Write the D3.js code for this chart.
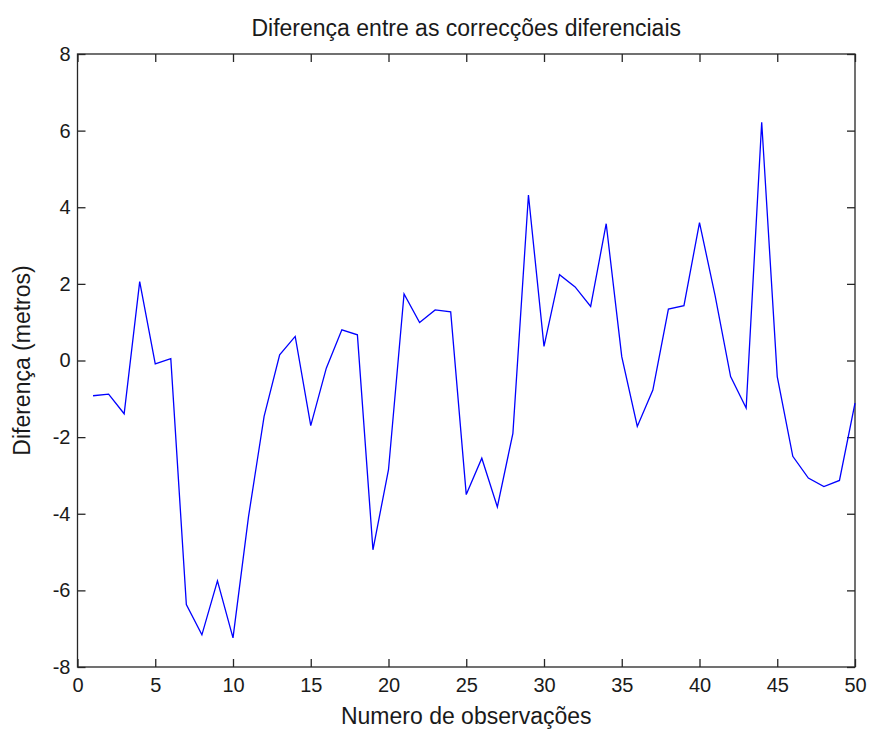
<!DOCTYPE html>
<html>
<head>
<meta charset="utf-8">
<script src="https://cdn.jsdelivr.net/npm/d3@7"></script>
<style>
  body { margin: 0; background: #fff; }
  text { font-family: Arial, "Liberation Sans", sans-serif; fill: #1a1a1a; }
</style>
</head>
<body>
<script>
// Chart texts
var titleText = "Diferença entre as correcções diferenciais";
var xLabelText = "Numero de observações";
var yLabelText = "Diferença (metros)";

var observations = d3.range(1, 51);
var differences = [
  -0.92, -0.88, -1.39, 2.06, -0.09, 0.05, -6.37, -7.16, -5.75, -7.24,
  -4.07, -1.46, 0.15, 0.63, -1.7, -0.2, 0.8, 0.67, -4.94, -2.85,
  1.74, 0.99, 1.32, 1.27, -3.5, -2.55, -3.82, -1.9, 4.32, 0.37,
  2.24, 1.92, 1.41, 3.57, 0.1, -1.72, -0.77, 1.34, 1.43, 3.6,
  1.7, -0.42, -1.24, 6.22, -0.42, -2.5, -3.07, -3.29, -3.13, -1.11,
];

// Tick values
var xTicks = [0, 5, 10, 15, 20, 25, 30, 35, 40, 45, 50];
var yTicks = [-8, -6, -4, -2, 0, 2, 4, 6, 8];

var svgWidth = 871;
var svgHeight = 729;
var margin = { top: 54, right: 16, bottom: 62, left: 77.5 };
var chartWidth = svgWidth - margin.left - margin.right;
var chartHeight = svgHeight - margin.top - margin.bottom;

var svg = d3
  .select("body")
  .append("svg")
  .attr("width", svgWidth)
  .attr("height", svgHeight);

var chartGroup = svg
  .append("g")
  .attr("transform", `translate(${margin.left}, ${margin.top})`);

var xScale = d3.scaleLinear().domain([0, 50]).range([0, chartWidth]);
var yScale = d3.scaleLinear().domain([-8, 8]).range([chartHeight, 0]);

// Axes with inward ticks (matlab style box)
var tickLen = 8;
var tickFont = 20;
var labelFont = 23;
// plain hyphen for negatives, like the original
var fmt = (d) => String(d);

function styleAxis(g) {
  g.select(".domain").remove();
  g.selectAll(".tick line").attr("stroke", "#262626").attr("stroke-width", 1.3);
  g.selectAll(".tick text").style("font-size", tickFont + "px");
}

chartGroup
  .append("g")
  .attr("transform", `translate(0, ${chartHeight})`)
  .call(d3.axisBottom(xScale).tickValues(xTicks).tickFormat(fmt).tickSizeInner(-tickLen).tickSizeOuter(0).tickPadding(11))
  .call(styleAxis);

chartGroup
  .append("g")
  .call(d3.axisTop(xScale).tickValues(xTicks).tickSizeInner(-tickLen).tickSizeOuter(0).tickFormat(""))
  .call(styleAxis);

chartGroup
  .append("g")
  .call(d3.axisLeft(yScale).tickValues(yTicks).tickFormat(fmt).tickSizeInner(-tickLen).tickSizeOuter(0).tickPadding(7))
  .call(styleAxis);

chartGroup
  .append("g")
  .attr("transform", `translate(${chartWidth}, 0)`)
  .call(d3.axisRight(yScale).tickValues(yTicks).tickSizeInner(-tickLen).tickSizeOuter(0).tickFormat(""))
  .call(styleAxis);

// Box around the plot area
chartGroup
  .append("rect")
  .attr("width", chartWidth)
  .attr("height", chartHeight)
  .attr("fill", "none")
  .attr("stroke", "#262626")
  .attr("stroke-width", 1.3);

// The line
var line = d3
  .line()
  .x((d, i) => xScale(observations[i]))
  .y((d) => yScale(d));

chartGroup
  .append("path")
  .datum(differences)
  .attr("d", line)
  .attr("fill", "none")
  .attr("stroke", "#0000ff")
  .attr("stroke-width", 1.3);

// Title and axis labels
svg
  .append("text")
  .text(titleText)
  .attr("x", margin.left + chartWidth / 2)
  .attr("y", 36)
  .attr("text-anchor", "middle")
  .style("font-size", labelFont + "px");

svg
  .append("text")
  .text(xLabelText)
  .attr("x", margin.left + chartWidth / 2)
  .attr("y", 724)
  .attr("text-anchor", "middle")
  .style("font-size", labelFont + "px");

svg
  .append("text")
  .text(yLabelText)
  .attr("transform", `translate(30, ${margin.top + chartHeight / 2}) rotate(-90)`)
  .attr("text-anchor", "middle")
  .style("font-size", labelFont + "px");
</script>
</body>
</html>
